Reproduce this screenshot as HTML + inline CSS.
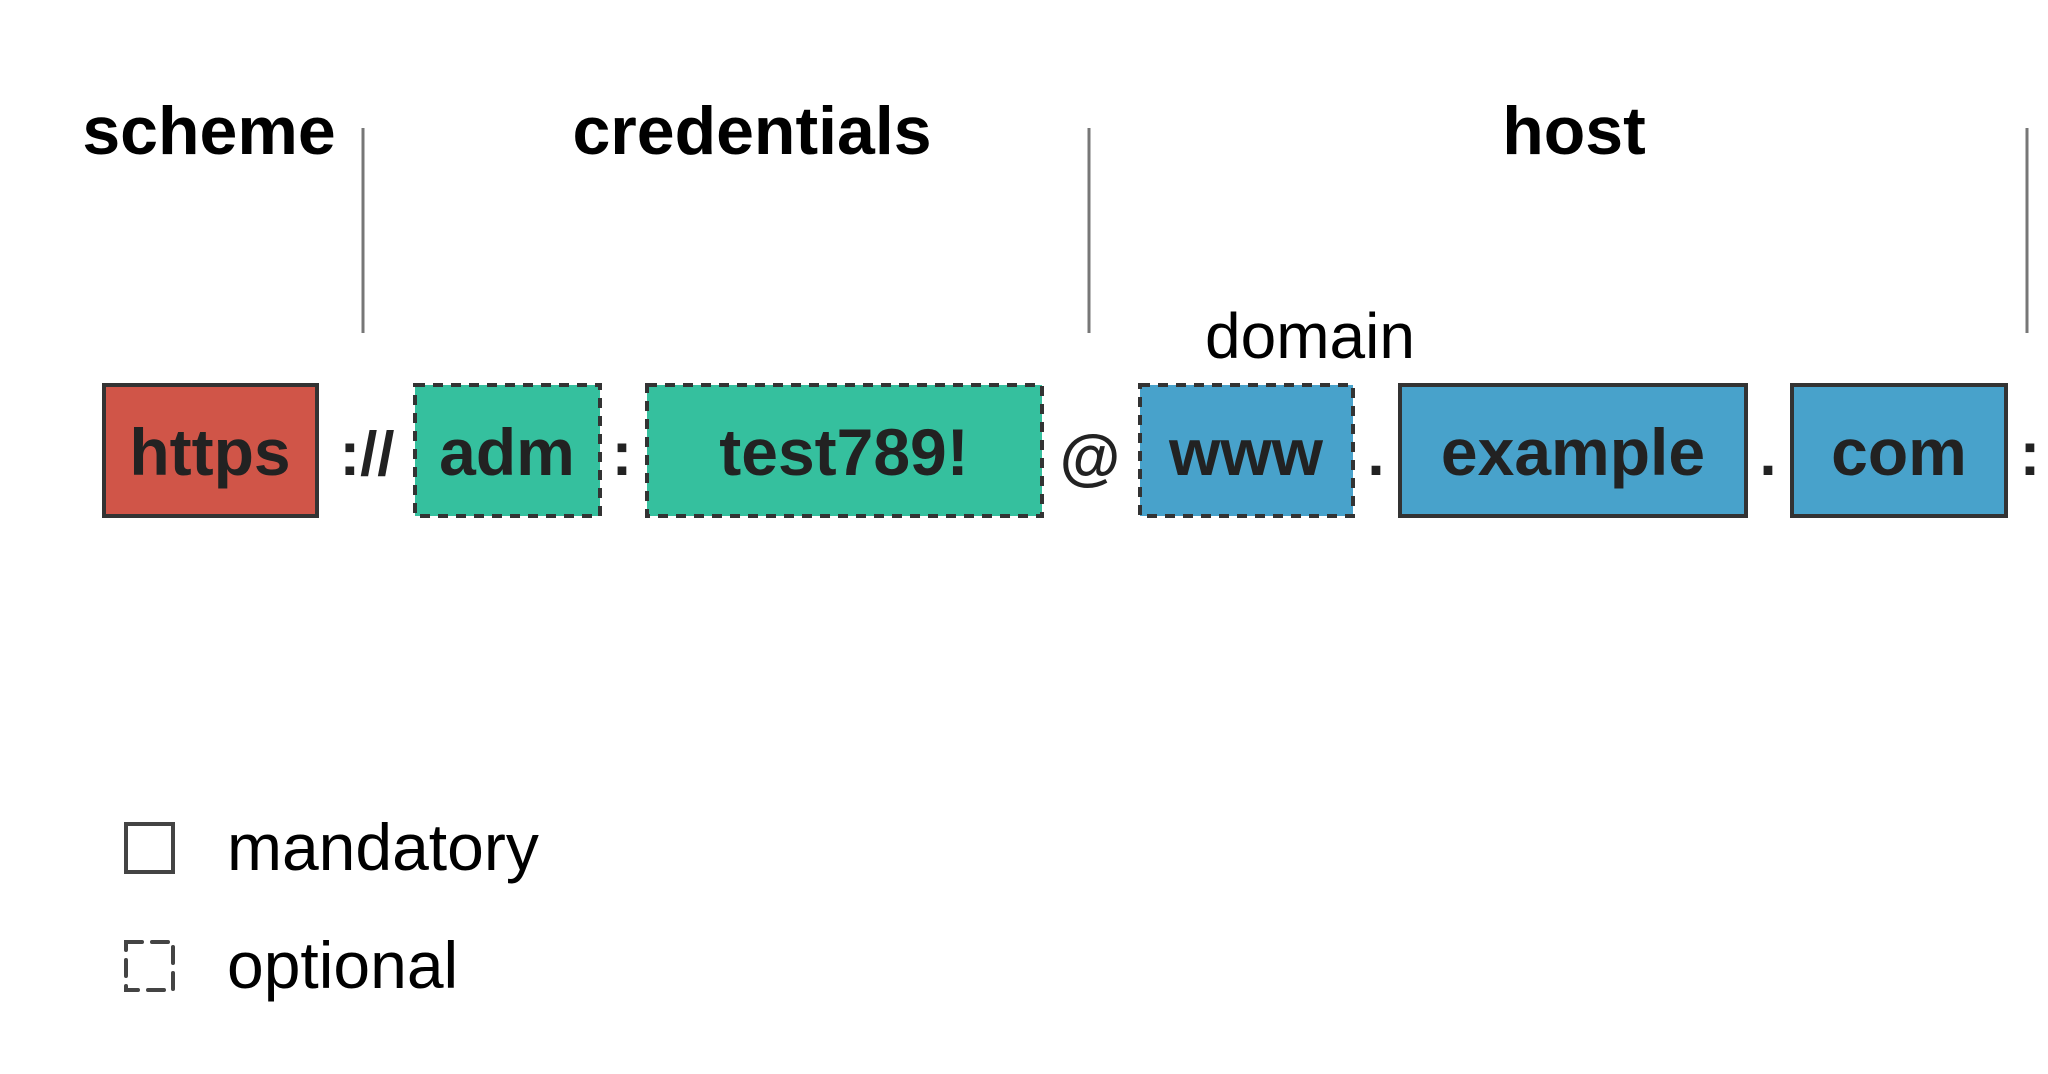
<!DOCTYPE html>
<html><head><meta charset="utf-8"><style>
html,body{margin:0;padding:0;background:#fff;width:2048px;height:1074px;overflow:hidden}
svg{display:block}
text{font-family:"Liberation Sans",Arial,sans-serif;fill:#000}
.h{font-weight:bold;font-size:68px}
.b{font-weight:bold;font-size:66px;fill:#222}
.s{font-weight:bold;font-size:62px;fill:#222}
</style></head><body>
<svg width="2048" height="1074" viewBox="0 0 2048 1074" xmlns="http://www.w3.org/2000/svg">
<text class="h" x="209" y="154" text-anchor="middle">scheme</text>
<text class="h" x="752" y="154" text-anchor="middle">credentials</text>
<text class="h" x="1574" y="154" text-anchor="middle">host</text>
<g stroke="#777" stroke-width="3">
<line x1="363" y1="128" x2="363" y2="333"/>
<line x1="1089" y1="128" x2="1089" y2="333"/>
<line x1="2027" y1="128" x2="2027" y2="333"/>
</g>
<text x="1310" y="358" text-anchor="middle" font-size="64">domain</text>
<g stroke="#333" stroke-width="4">
<rect x="104" y="385" width="213" height="131" fill="#D05548"/>
<rect x="415" y="385" width="185" height="131" fill="#35C09E" stroke-dasharray="10,8"/>
<rect x="647" y="385" width="395" height="131" fill="#35C09E" stroke-dasharray="10,8"/>
<rect x="1140" y="385" width="213" height="131" fill="#48A2CB" stroke-dasharray="10,8"/>
<rect x="1400" y="385" width="346" height="131" fill="#48A2CB"/>
<rect x="1792" y="385" width="214" height="131" fill="#48A2CB"/>
</g>
<text class="b" x="210" y="475" text-anchor="middle">https</text>
<text class="b" x="507" y="475" text-anchor="middle">adm</text>
<text class="b" x="844" y="475" text-anchor="middle">test789!</text>
<text class="b" x="1246" y="475" text-anchor="middle">www</text>
<text class="b" x="1573" y="475" text-anchor="middle">example</text>
<text class="b" x="1899" y="475" text-anchor="middle">com</text>
<text class="s" x="367" y="475" text-anchor="middle">://</text>
<text class="s" x="622" y="475" text-anchor="middle">:</text>
<text class="s" x="1090" y="478" text-anchor="middle" font-size="80">@</text>
<text class="s" x="1376" y="475" text-anchor="middle">.</text>
<text class="s" x="1768" y="475" text-anchor="middle">.</text>
<text class="s" x="2030" y="475" text-anchor="middle">:</text>
<rect x="126" y="824" width="47" height="48" fill="none" stroke="#444" stroke-width="4"/>
<rect x="126" y="942" width="47" height="48" fill="none" stroke="#444" stroke-width="4" stroke-dasharray="16,10" stroke-linecap="round"/>
<text x="227" y="870" font-size="66">mandatory</text>
<text x="227" y="988" font-size="66">optional</text>
</svg>
</body></html>
